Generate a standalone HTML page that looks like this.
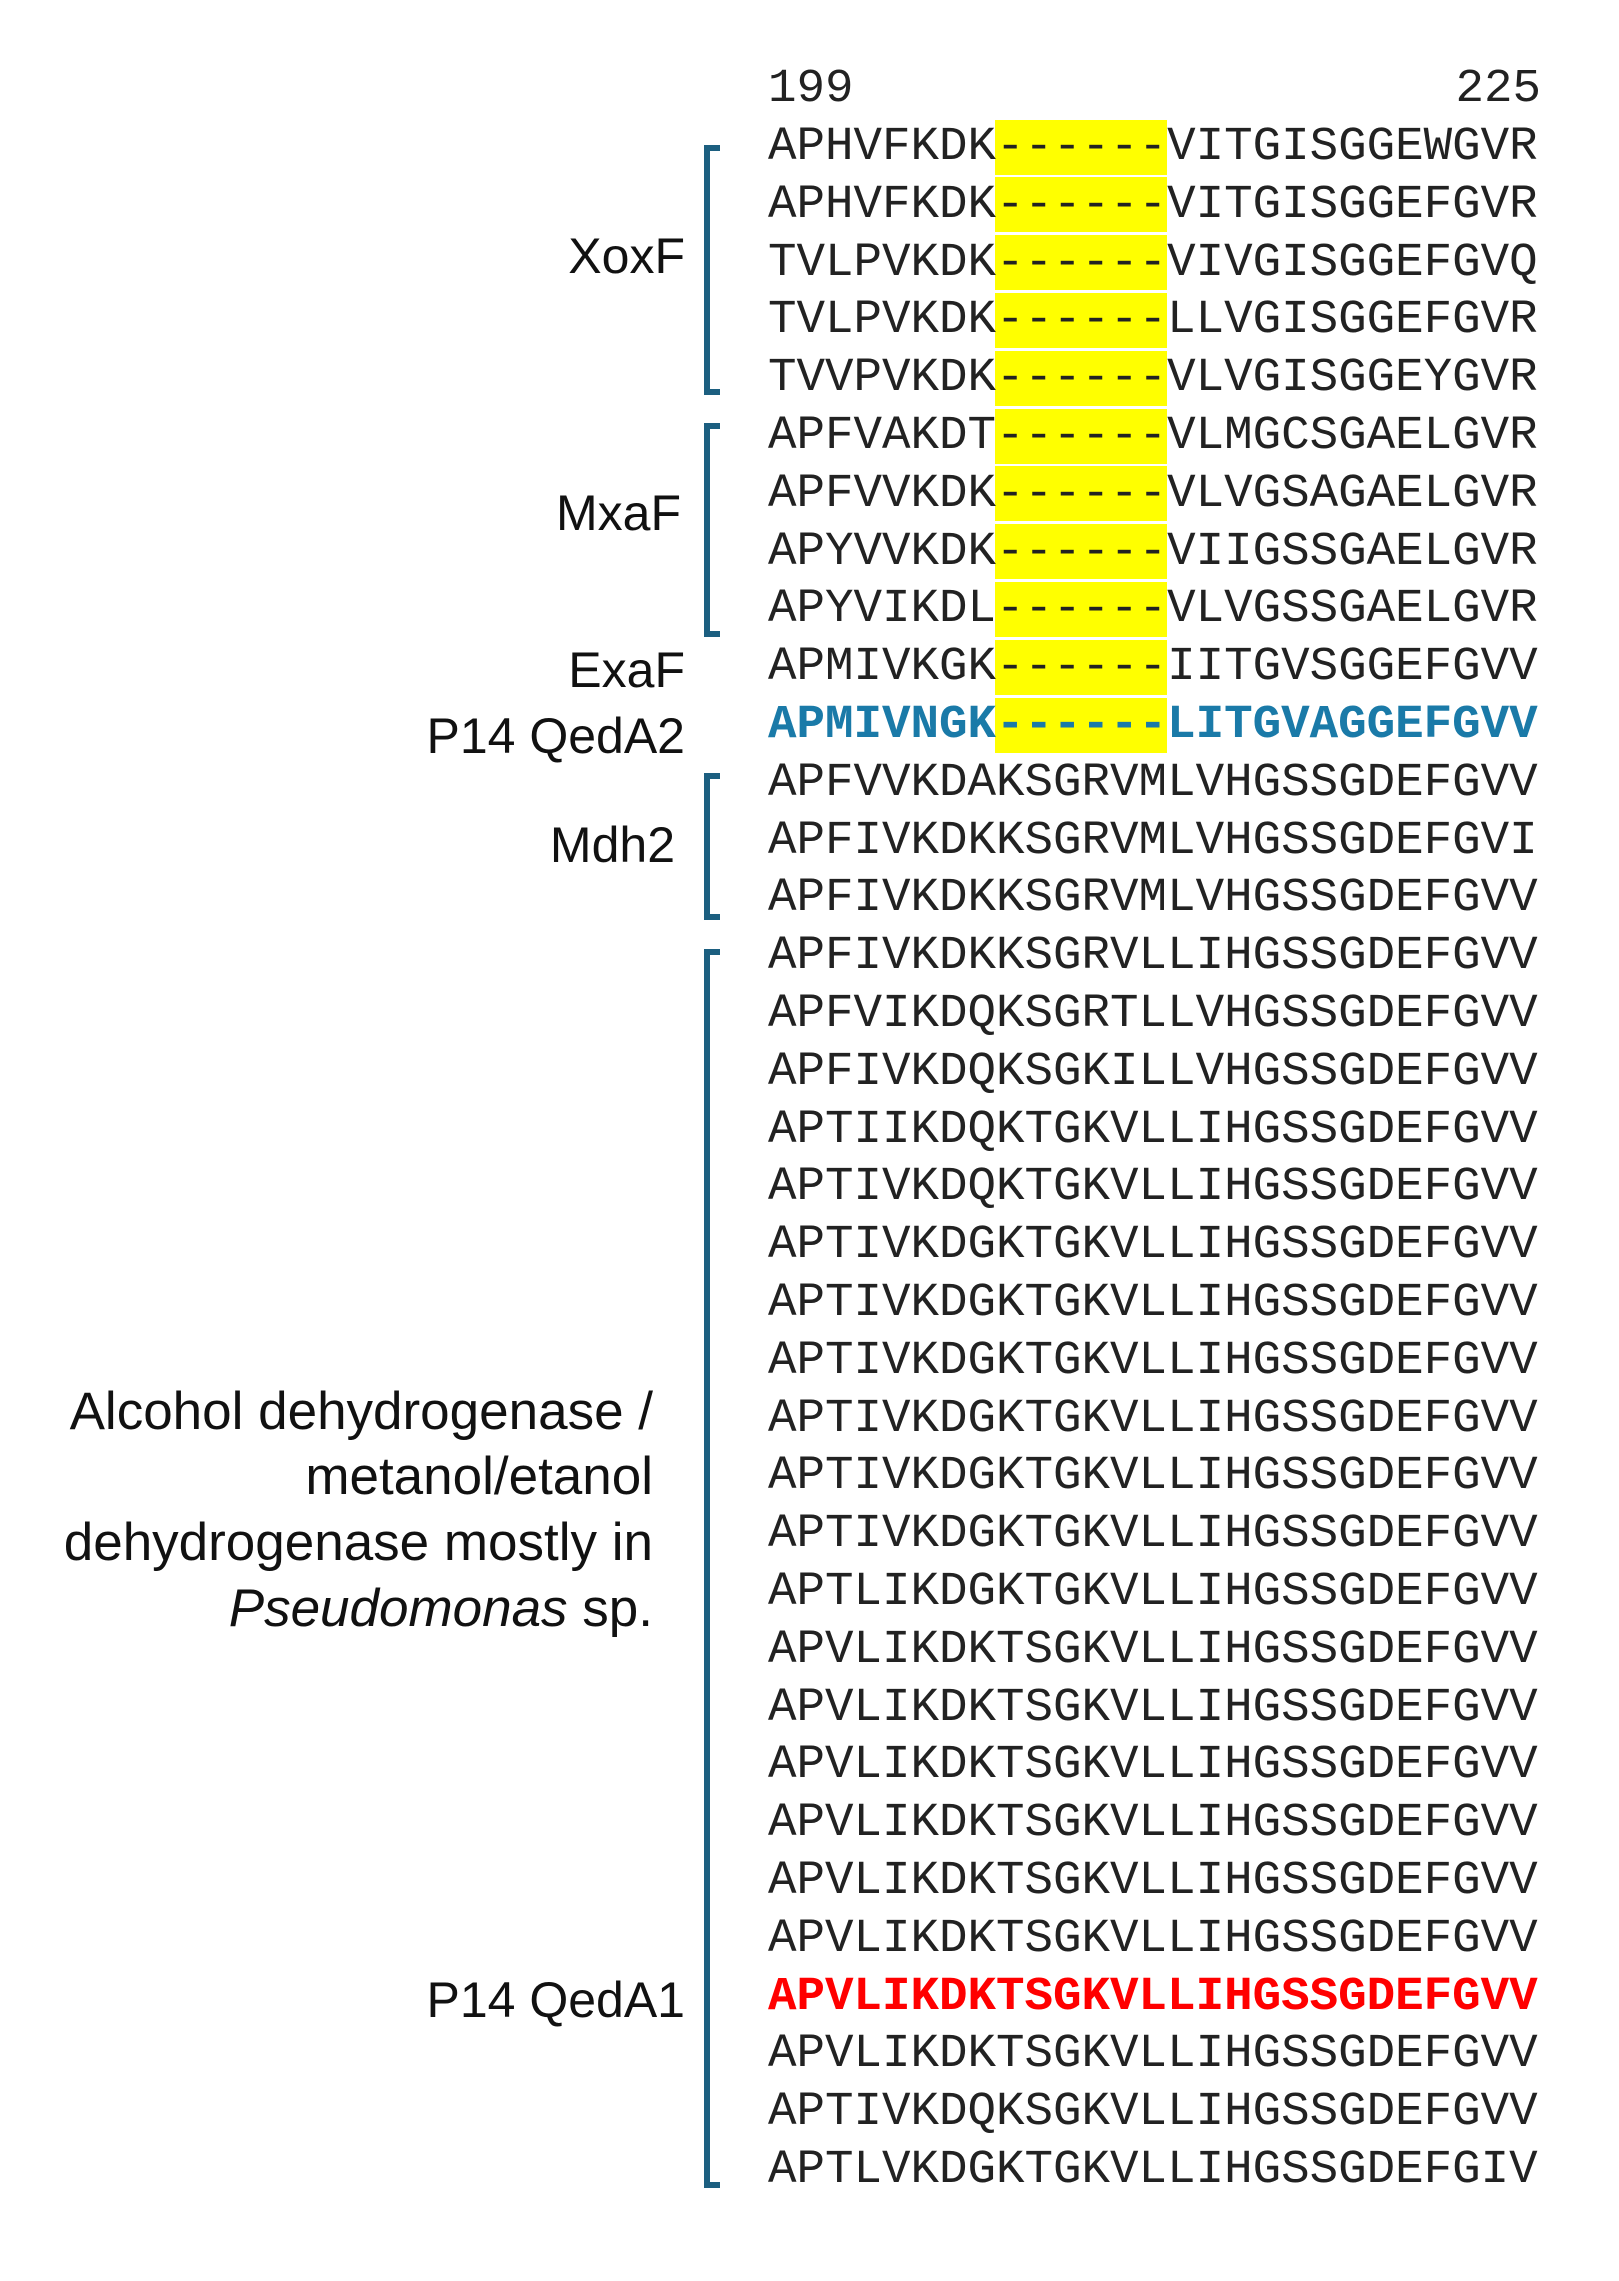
<!DOCTYPE html>
<html><head><meta charset="utf-8"><style>
body{margin:0;background:#fff;width:1619px;height:2281px;position:relative;overflow:hidden}
.s{position:absolute;left:768px;font-family:"Liberation Mono",monospace;font-size:47.5px;line-height:58px;height:58px;white-space:pre;color:#222}
.hl{position:absolute;left:995px;width:172px;height:55px;background:#ffff00}
.l{position:absolute;right:934px;font-family:"Liberation Sans",sans-serif;font-size:50px;line-height:60px;height:60px;white-space:nowrap;text-align:right;color:#111}
.a{right:966px;font-size:53px}
.b{position:absolute;left:704px;width:16px;border:6px solid #1c5f80;border-right:none;box-sizing:border-box}
</style></head><body>
<div class="s" style="top:60px">199</div>
<div class="s" style="top:60px;left:auto;right:78px">225</div>
<div id="h"></div>
<div id="r"></div>
<div class="b" style="top:145px;height:250px"></div>
<div class="b" style="top:423px;height:214px"></div>
<div class="b" style="top:773px;height:147px"></div>
<div class="b" style="top:949px;height:1239px"></div>
<div class="l" style="top:226px">XoxF</div>
<div class="l" style="top:483px;right:938px">MxaF</div>
<div class="l" style="top:640px">ExaF</div>
<div class="l" style="top:706px">P14 QedA2</div>
<div class="l" style="top:815px;right:944px">Mdh2</div>
<div class="l a" style="top:1382px">Alcohol dehydrogenase /</div>
<div class="l a" style="top:1447px">metanol/etanol</div>
<div class="l a" style="top:1513px">dehydrogenase mostly in</div>
<div class="l a" style="top:1579px"><i>Pseudomonas</i> sp.</div>
<div class="l" style="top:1970px">P14 QedA1</div>
<script>
var rows=["APHVFKDK------VITGISGGEWGVR","APHVFKDK------VITGISGGEFGVR","TVLPVKDK------VIVGISGGEFGVQ","TVLPVKDK------LLVGISGGEFGVR","TVVPVKDK------VLVGISGGEYGVR",
"APFVAKDT------VLMGCSGAELGVR","APFVVKDK------VLVGSAGAELGVR","APYVVKDK------VIIGSSGAELGVR","APYVIKDL------VLVGSSGAELGVR",
"APMIVKGK------IITGVSGGEFGVV","APMIVNGK------LITGVAGGEFGVV",
"APFVVKDAKSGRVMLVHGSSGDEFGVV","APFIVKDKKSGRVMLVHGSSGDEFGVI","APFIVKDKKSGRVMLVHGSSGDEFGVV",
"APFIVKDKKSGRVLLIHGSSGDEFGVV","APFVIKDQKSGRTLLVHGSSGDEFGVV","APFIVKDQKSGKILLVHGSSGDEFGVV","APTIIKDQKTGKVLLIHGSSGDEFGVV","APTIVKDQKTGKVLLIHGSSGDEFGVV"];
for(var i=0;i<6;i++)rows.push("APTIVKDGKTGKVLLIHGSSGDEFGVV");
rows.push("APTLIKDGKTGKVLLIHGSSGDEFGVV");
for(var i=0;i<6;i++)rows.push("APVLIKDKTSGKVLLIHGSSGDEFGVV");
rows.push("APVLIKDKTSGKVLLIHGSSGDEFGVV","APVLIKDKTSGKVLLIHGSSGDEFGVV","APTIVKDQKSGKVLLIHGSSGDEFGVV","APTLVKDGKTGKVLLIHGSSGDEFGIV");
var h="",r="";
for(var i=0;i<rows.length;i++){var y=147+i*57.8;
if(i<=10)h+='<div class="hl" style="top:'+(y-27.5).toFixed(1)+'px"></div>';
var st='top:'+(y-29).toFixed(1)+'px';
if(i==10)st+=';color:#1a7aa8;font-weight:bold';
if(i==32)st+=';color:#ff0000;font-weight:bold';
r+='<div class="s" style="'+st+'">'+rows[i]+'</div>';}
document.getElementById("h").innerHTML=h;document.getElementById("r").innerHTML=r;
</script>
</body></html>
